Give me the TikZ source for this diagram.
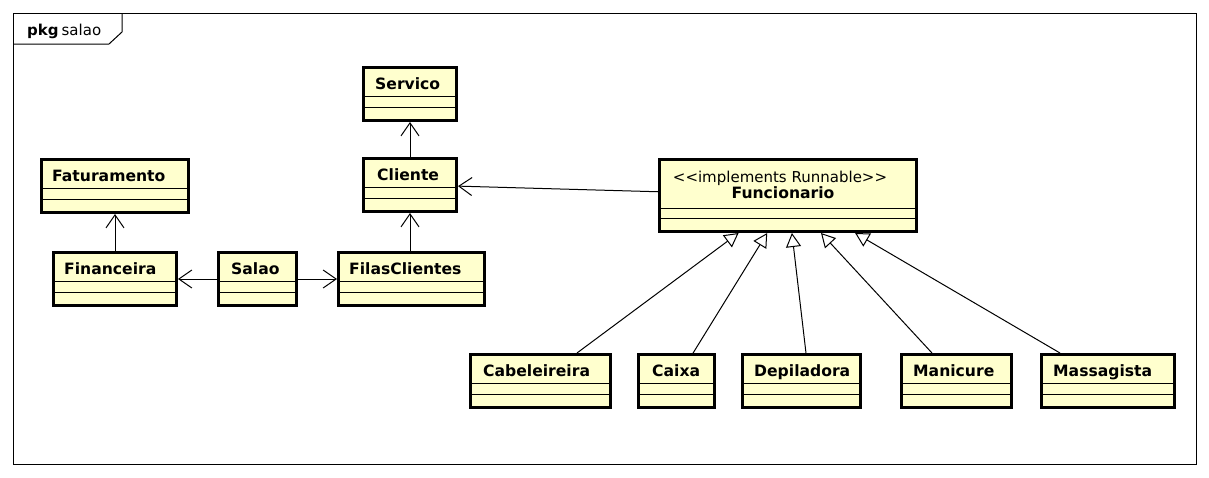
\documentclass[tikz,border=0pt]{standalone}
\usepackage{fontspec}
\setmainfont{DejaVu Sans}
\usetikzlibrary{arrows.meta,calc}
\definecolor{classfill}{RGB}{255,255,206}
\tikzset{
  umlclass/.style={draw, line width=3pt, fill=classfill, anchor=north west, inner sep=0pt, minimum height=53pt},
  classname/.style={anchor=base west, inner sep=0pt, font=\bfseries\fontsize{15.6}{18}\selectfont},
  compline/.style={line width=1pt},
  assoc/.style={line width=1pt, -{Straight Barb[length=13pt,width=18pt]}},
  generalize/.style={line width=1pt, -{Triangle[open,fill=white,length=14pt,width=15pt]}},
}
\newcommand{\compartments}[1]{%
  \draw[compline] ($(#1.north west)+(0,30)$) -- ($(#1.north east)+(0,30)$);
  \draw[compline] ($(#1.north west)+(0,41)$) -- ($(#1.north east)+(0,41)$);}

\begin{document}
\begin{tikzpicture}[x=1pt,y=-1pt]
\useasboundingbox (0,0) rectangle (1209,477);
% package frame
\draw[line width=1pt] (13,13) rectangle (1196,464);
\draw[line width=1pt] (13,44) -- (109,44) -- (122,32) -- (122,13);
\node[anchor=base west, inner sep=0pt, font=\fontsize{15}{18}\selectfont] (pkg) at (27,35) {\textbf{pkg}\kern3pt salao};

% classes
\node[umlclass, minimum width=93pt] (ser) at (362,66) {};
\node[umlclass, minimum width=147pt] (fat) at (40,158) {};
\node[umlclass, minimum width=93pt] (cli) at (362,157) {};
\node[umlclass, minimum width=123pt] (fin) at (52,251) {};
\node[umlclass, minimum width=78pt] (sal) at (217,251) {};
\node[umlclass, minimum width=146pt] (fil) at (337,251) {};
\node[umlclass, minimum width=257pt, minimum height=72pt] (func) at (658,158) {};
\node[umlclass, minimum width=140pt] (cab) at (469,353) {};
\node[umlclass, minimum width=76pt] (cai) at (637,353) {};
\node[umlclass, minimum width=118pt] (dep) at (741,353) {};
\node[umlclass, minimum width=110pt] (man) at (900,353) {};
\node[umlclass, minimum width=133pt] (mas) at (1040,353) {};

\node[classname] (ser-t) at ($(ser.north west)+(13,23)$) {Servico};
\node[classname] (fat-t) at ($(fat.north west)+(12,23)$) {Faturamento};
\node[classname] (cli-t) at ($(cli.north west)+(15,23)$) {Cliente};
\node[classname] (fin-t) at ($(fin.north west)+(12,23)$) {Financeira};
\node[classname] (sal-t) at ($(sal.north west)+(14,23)$) {Salao};
\node[classname] (fil-t) at ($(fil.north west)+(12,23)$) {FilasClientes};
\node[classname] (cab-t) at ($(cab.north west)+(14,23)$) {Cabeleireira};
\node[classname] (cai-t) at ($(cai.north west)+(15,23)$) {Caixa};
\node[classname] (dep-t) at ($(dep.north west)+(13,23)$) {Depiladora};
\node[classname] (man-t) at ($(man.north west)+(13,23)$) {Manicure};
\node[classname] (mas-t) at ($(mas.north west)+(13,23)$) {Massagista};
\node[anchor=base, inner sep=0pt, font=\fontsize{15}{18}\selectfont] (func-s) at ($(func.north)+(-8,24)$) {<\kern0pt<implements Runnable>\kern0pt>};
\node[classname, anchor=base] (func-t) at ($(func.north)+(-5,40)$) {Funcionario};

\compartments{ser}
\compartments{fat}
\compartments{cli}
\compartments{fin}
\compartments{sal}
\compartments{fil}
\compartments{cab}
\compartments{cai}
\compartments{dep}
\compartments{man}
\compartments{mas}
\draw[compline] ($(func.north west)+(0,50)$) -- ($(func.north east)+(0,50)$);
\draw[compline] ($(func.north west)+(0,60)$) -- ($(func.north east)+(0,60)$);

% associations
\draw[assoc] (fin.north) -- (fat.south);
\draw[assoc] (sal.west) -- (fin.east);
\draw[assoc] (sal.east) -- (fil.east -| fil.west);
\draw[assoc] (cli.south |- fil.north) -- (cli.south);
\draw[assoc] (cli.north) -- (ser.south);
\draw[assoc] ($(func.north west)!0.45!(func.south west)$) -- ($(cli.north east)!0.52!(cli.south east)$);

% generalizations
\draw[generalize] ($(cab.north west)!0.755!(cab.north east)$) -- ($(func.south west)!0.31!(func.south east)$);
\draw[generalize] ($(cai.north west)!0.71!(cai.north east)$) -- ($(func.south west)!0.42!(func.south east)$);
\draw[generalize] ($(dep.north west)!0.537!(dep.north east)$) -- ($(func.south west)!0.515!(func.south east)$);
\draw[generalize] ($(man.north west)!0.283!(man.north east)$) -- ($(func.south west)!0.627!(func.south east)$);
\draw[generalize] ($(mas.north west)!0.147!(mas.north east)$) -- ($(func.south west)!0.758!(func.south east)$);
\end{tikzpicture}
\end{document}
